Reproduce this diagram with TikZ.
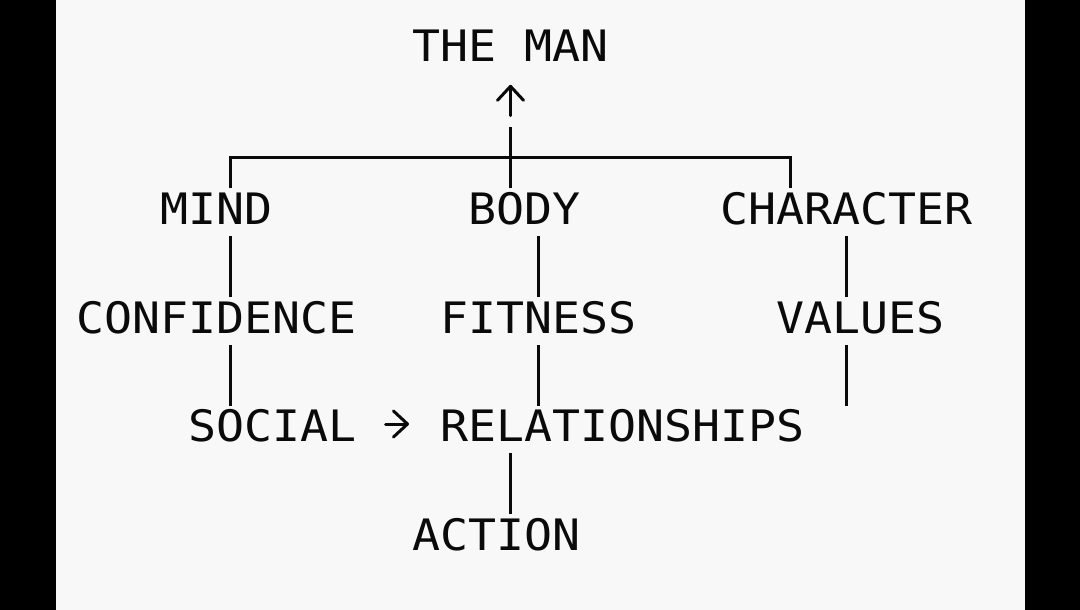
\documentclass[tikz,border=0pt]{standalone}
\usepackage{fontspec}
\setmonofont[FakeStretch=1.075]{DejaVu Sans Mono}
\usetikzlibrary{arrows.meta}
\definecolor{bgc}{HTML}{F8F8F8}
\definecolor{ink}{HTML}{0A0A0A}
\begin{document}
\begin{tikzpicture}[x=1pt,y=-1pt,
  word/.style={anchor=base west, inner sep=0pt, text=ink, font=\ttfamily\fontsize{43.3}{54}\selectfont},
  bar/.style={draw=ink, line width=2.8pt},
  arr/.style={draw=ink, line width=3pt, line cap=round, -{Straight Barb[length=14pt,width=26pt,round]}}]
\fill[black] (0,0) rectangle (1080,610);
\fill[bgc] (56,0) rectangle (1025,610);
\useasboundingbox (0,0) rectangle (1080,610);
% column centres
\coordinate (c5) at (230.5,0);
\coordinate (c15) at (510.5,0);
\coordinate (c16) at (538.5,0);
\coordinate (c25) at (790.5,0);
\coordinate (c27) at (846.5,0);
\coordinate (j) at (510.5,157.3);
\coordinate (vend) at (846.5,405.7);
% words
\node[word] (man)  at (412.5,61.3)   {THE MAN};
\node[word] (mind) at (160.5,224.35) {MIND};
\node[word] (body) at (468.5,224.35) {BODY};
\node[word] (char) at (720.5,224.35) {CHARACTER};
\node[word] (conf) at (76.5,333.05)  {CONFIDENCE};
\node[word] (fit)  at (440.5,333.05) {FITNESS};
\node[word] (val)  at (776.5,333.05) {VALUES};
\node[word] (soc)  at (188.5,441.75) {SOCIAL};
\node[word] (rel)  at (440.5,441.75) {RELATIONSHIPS};
\node[word] (act)  at (412.5,550.45) {ACTION};
% top bracket
\draw[bar] ([yshift=36pt]c5|-mind.base) -- (c5|-j) -- (c25|-j) -- ([yshift=36pt]c25|-char.base);
\draw[bar] ([yshift=36pt]c15|-body.base) -- ([yshift=30pt]c15|-j);
\draw[arr] ([yshift=41.6pt]c15|-j) -- ([yshift=-23.5pt]c15|-man.base);
% row 4 links
\draw[bar] ([yshift=-11.7pt]c5|-mind.base) -- ([yshift=36.3pt]c5|-conf.base);
\draw[bar] ([yshift=-11.7pt]c16|-body.base) -- ([yshift=36.3pt]c16|-fit.base);
\draw[bar] ([yshift=-11.7pt]c27|-char.base) -- ([yshift=36.3pt]c27|-val.base);
% row 6 links
\draw[bar] ([yshift=-11.7pt]c5|-conf.base) -- ([yshift=36pt]c5|-soc.base);
\draw[bar] ([yshift=-11.7pt]c16|-fit.base) -- ([yshift=36pt]c16|-rel.base);
\draw[bar] ([yshift=-11.7pt]c27|-val.base) -- (vend);
% row 8 link
\draw[bar] ([yshift=-11.7pt]c15|-rel.base) -- ([yshift=36pt]c15|-act.base);
% social -> relationships
\draw[arr] ([shift={(28.5pt,17.75pt)}]soc.base east) -- ([shift={(-31.5pt,17.75pt)}]rel.base west);
\end{tikzpicture}
\end{document}
